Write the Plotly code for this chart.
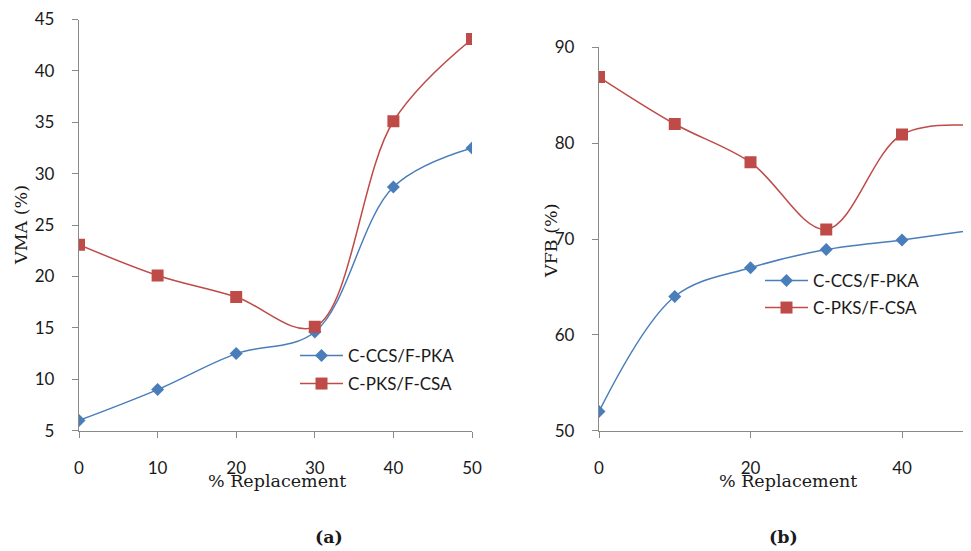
import plotly.graph_objects as go

replacement = [0, 10, 20, 30, 40, 50]
vma_ccs = [6.0, 9.0, 12.5, 14.6, 28.7, 32.5]
vma_pks = [23.1, 20.1, 18.0, 15.1, 35.1, 43.1]
vfb_ccs = [52.0, 64.0, 67.0, 68.9, 69.9, 71.0]
vfb_pks = [86.9, 82.0, 78.0, 71.0, 80.9, 81.8]

series_names = ["C-CCS/F-PKA", "C-PKS/F-CSA"]
x_ticks_a = [0, 10, 20, 30, 40, 50]
x_ticks_b = [0, 20, 40]
y_ticks_a = [5, 10, 15, 20, 25, 30, 35, 40, 45]
y_ticks_b = [50, 60, 70, 80, 90]

BLUE = "#4A7EBB"
RED = "#BE4B48"
AXIS = "#898989"
TEXT = "#1a1a1a"
TICKFONT = dict(family="Lato", size=17, color=TEXT)
SERIF = "DejaVu Serif"

W, H = 971, 551
OFF = 8  # page body margin


def px(x):
    return (x - OFF) / W


def py(y):
    return 1 - (y - OFF) / H


fig = go.Figure()


def add_pair(xa, ya, ccs, pks, leg_a, leg_b):
    fig.add_trace(go.Scatter(
        x=replacement, y=ccs, name=series_names[0], mode="lines+markers",
        line=dict(color=BLUE, width=1.5, shape="spline", smoothing=1),
        marker=dict(symbol="diamond", size=10, color=BLUE),
        xaxis=xa, yaxis=ya, legend=leg_a))
    fig.add_trace(go.Scatter(
        x=replacement, y=pks, name=series_names[1], mode="lines+markers",
        line=dict(color=RED, width=1.5, shape="spline", smoothing=1),
        marker=dict(symbol="square", size=12, color=RED),
        xaxis=xa, yaxis=ya, legend=leg_b))


add_pair("x", "y", vma_ccs, vma_pks, "legend", "legend2")
add_pair("x2", "y2", vfb_ccs, vfb_pks, "legend3", "legend4")

axis_common = dict(showgrid=False, zeroline=False, showline=True, linecolor=AXIS,
                   linewidth=1.3, ticks="outside", ticklen=6, tickcolor=AXIS,
                   tickwidth=1.3, tickfont=TICKFONT, automargin=False)


def leg(x, y):
    return dict(x=px(x), y=py(y), xanchor="left", yanchor="middle",
                font=dict(family="Lato", size=17, color=TEXT), itemwidth=43,
                bgcolor="rgba(0,0,0,0)", borderwidth=0)


fig.update_layout(
    template="none",
    width=W, height=H, margin=dict(l=0, r=0, t=0, b=0, pad=0, autoexpand=False),
    paper_bgcolor="white", plot_bgcolor="white", showlegend=True,
    xaxis=dict(domain=[px(79), px(472)], range=[0, 50], tickvals=x_ticks_a,
               anchor="y", ticklabelstandoff=16, **axis_common),
    yaxis=dict(domain=[py(430.7), py(19.5)], range=[5, 45], tickvals=y_ticks_a,
               anchor="x", ticklabelstandoff=14, **axis_common),
    xaxis2=dict(domain=[px(599), px(971)], range=[0, 20 * (971 - 599) / 151.5],
                tickvals=x_ticks_b, anchor="y2", ticklabelstandoff=16, **axis_common),
    yaxis2=dict(domain=[py(430.7), py(47.3)], range=[50, 90], tickvals=y_ticks_b,
                anchor="x2", ticklabelstandoff=14, **axis_common),
    legend=leg(295, 356),
    legend2=leg(295, 384),
    legend3=leg(760, 281),
    legend4=leg(760, 308),
)

ann_font = dict(family=SERIF, size=17.5, color=TEXT)


def ann(text, x, y, angle=0):
    fig.add_annotation(text=text, x=px(x), y=py(y), xref="paper", yref="paper",
                       showarrow=False, font=ann_font, textangle=angle,
                       xanchor="center", yanchor="middle")


ann("% Replacement", 277, 481)
ann("% Replacement", 788, 481)
ann("VMA (%)", 21, 225, -90)
ann("VFB (%)", 551, 241, -90)
ann("<b>(a)</b>", 329, 537)
ann("<b>(b)</b>", 783, 537)

fig.write_html("out.html")
